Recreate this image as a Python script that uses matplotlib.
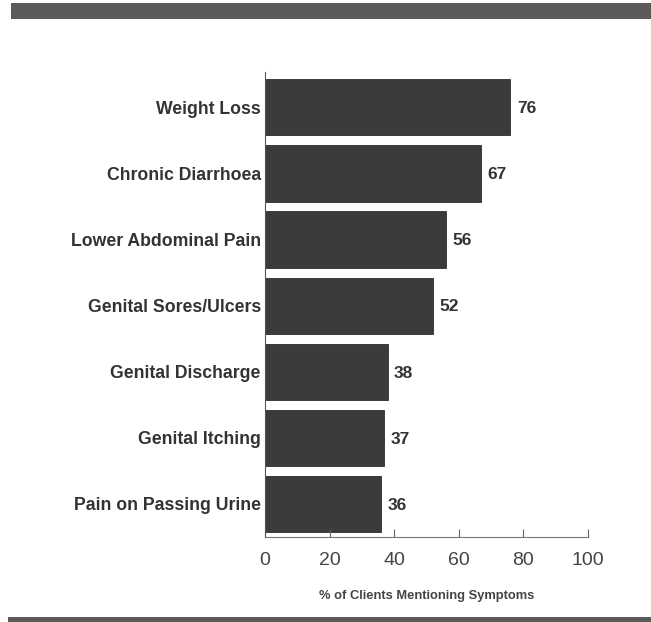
import matplotlib
matplotlib.use("Agg")
import matplotlib.pyplot as plt
from matplotlib.patches import Rectangle

categories = ["Weight Loss", "Chronic Diarrhoea", "Lower Abdominal Pain",
              "Genital Sores/Ulcers", "Genital Discharge", "Genital Itching",
              "Pain on Passing Urine"]
values = [76, 67, 56, 52, 38, 37, 36]
xticks = [0, 20, 40, 60, 80, 100]
xlabel = "% of Clients Mentioning Symptoms"

plt.rcParams['font.family'] = ['Liberation Sans', 'DejaVu Sans']

fig = plt.figure(figsize=(6.51, 6.22), dpi=100)
fig.patch.set_facecolor('white')
ax = fig.add_axes([0.407, 0.1367, 0.496, 0.747])

ypos = list(range(len(categories)))
ax.barh(ypos, values, height=0.85, color='#3b3b3b', edgecolor='#2e2e2e', linewidth=0.6)
for y, v in zip(ypos, values):
    ax.text(v + 2.0, y + 0.02, str(v), va='center', ha='left', fontsize=12.5,
            fontweight='bold', color='#333333')

ax.set_ylim(6.5, -0.53)
ax.set_xlim(0, 100)
ax.set_yticks(ypos)
ax.set_yticklabels(categories, fontsize=12.7, fontweight='bold', color='#333333')
ax.tick_params(axis='y', length=0, pad=3)
ax.set_xticks(xticks)
ax.set_xticklabels([str(t) for t in xticks], fontsize=14, color='#444444')
ax.tick_params(axis='x', direction='in', length=6, width=0.8, color='#666666', pad=11)
ax.set_xlabel(xlabel, fontsize=9.3, fontweight='bold', color='#444444', labelpad=15)

for s in ['top', 'right']:
    ax.spines[s].set_visible(False)
ax.spines['left'].set_color('#555555')
ax.spines['bottom'].set_color('#777777')
ax.spines['left'].set_linewidth(0.8)
ax.spines['bottom'].set_linewidth(0.8)

fig.patches.append(Rectangle((11/651, 603/622), 1 - 11/651, 16/622,
                             transform=fig.transFigure, facecolor='#5a5a5a',
                             edgecolor='none', zorder=0))
fig.patches.append(Rectangle((8/651, 0), 1 - 8/651, 5/622,
                             transform=fig.transFigure, facecolor='#5a5a5a',
                             edgecolor='none', zorder=0))

fig.savefig("out.png", dpi=100, facecolor='white')
